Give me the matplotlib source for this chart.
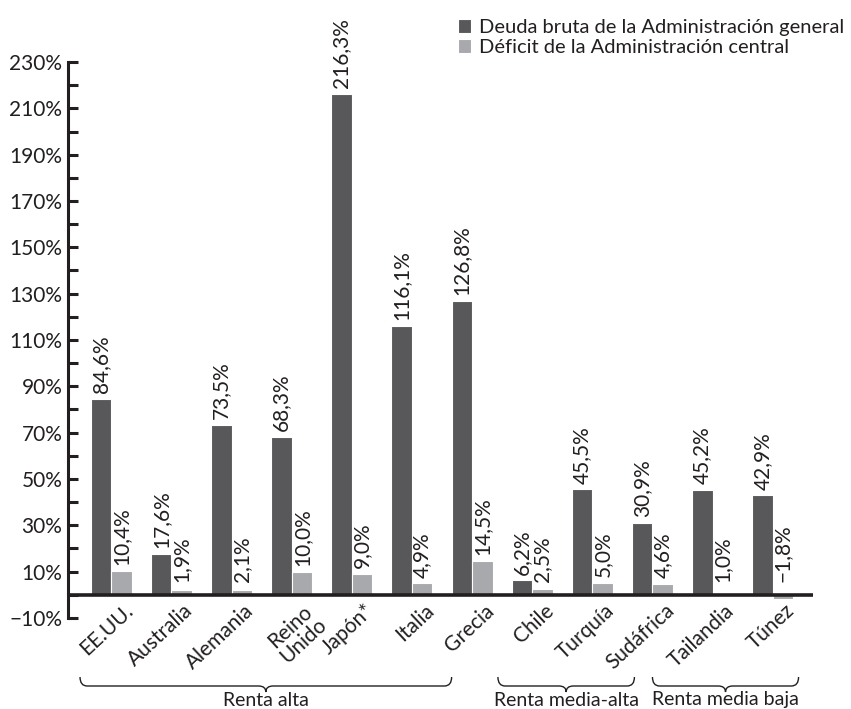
import numpy as np
import matplotlib
matplotlib.use("Agg")
import matplotlib.pyplot as plt
from matplotlib.path import Path
from matplotlib.patches import PathPatch
from matplotlib.transforms import blended_transform_factory

plt.rcParams['font.family'] = ['Lato', 'DejaVu Sans']

countries = ['EE.UU.', 'Australia', 'Alemania', 'Reino\nUnido', 'Japón*', 'Italia',
             'Grecia', 'Chile', 'Turquía', 'Sudáfrica', 'Tailandia', 'Túnez']
deuda = [84.6, 17.6, 73.5, 68.3, 216.3, 116.1, 126.8, 6.2, 45.5, 30.9, 45.2, 42.9]
deficit = [10.4, 1.9, 2.1, 10.0, 9.0, 4.9, 14.5, 2.5, 5.0, 4.6, 1.0, -1.8]
series_names = ['Deuda bruta de la Administración general',
                'Déficit de la Administración central']
groups = ['Renta alta', 'Renta media-alta', 'Renta media baja']
group_ranges = [(-0.52, 5.66), (6.43, 8.70), (9.0, 11.43)]

dark = '#58585a'
light = '#a7a9ac'
txt = '#231f20'
fs = 15


def fmt(v, dec=1):
    s = f'{abs(v):.{dec}f}'.replace('.', ',') + '%'
    return ('\u2212' + s) if v < 0 else s


def brace(ax, x0, x1, tr, yt, ym, yb, r=0.12):
    xm = (x0 + x1) / 2
    verts = [(x0, yt), (x0, ym), (x0 + r, ym), (xm - r, ym), (xm, ym), (xm, yb),
             (xm, ym), (xm + r, ym), (x1 - r, ym), (x1, ym), (x1, yt)]
    codes = [Path.MOVETO, Path.CURVE3, Path.CURVE3, Path.LINETO, Path.CURVE3, Path.CURVE3,
             Path.CURVE3, Path.CURVE3, Path.LINETO, Path.CURVE3, Path.CURVE3]
    ax.add_patch(PathPatch(Path(verts, codes), transform=tr, fill=False,
                           edgecolor=txt, lw=1.0, clip_on=False))


fig = plt.figure(figsize=(8.51, 7.09), dpi=100)
ax = fig.add_axes([68 / 851, 1 - 618 / 709, (813 - 68) / 851, (618 - 62) / 709])

x = np.arange(len(countries))
w = 0.34
ax.bar(x - w / 2, deuda, w, color=dark, edgecolor='white', linewidth=0.8,
       label=series_names[0], zorder=2)
ax.bar(x + w / 2, deficit, w, color=light, edgecolor='white', linewidth=0.8,
       label=series_names[1], zorder=2)

for i in range(len(countries)):
    for v, off in ((deuda[i], -w / 2), (deficit[i], w / 2)):
        ax.text(x[i] + off, max(v, 3) + 2.5, fmt(v), rotation=90, ha='center',
                va='bottom', fontsize=fs, color=txt)
    ax.text(x[i] + 0.2, -2.5, countries[i], rotation=43, rotation_mode='anchor',
            ha='right', va='top', multialignment='center', fontsize=fs, color=txt,
            linespacing=0.95)

ax.set_xlim(-0.72, 11.67)
ax.set_ylim(-10, 230)
ax.axhline(0, color=txt, lw=2.6, zorder=3)

for s in ('top', 'right', 'bottom'):
    ax.spines[s].set_visible(False)
ax.spines['left'].set_linewidth(2.2)
ax.spines['left'].set_color(txt)
ax.set_xticks([])
ticks = np.arange(-10, 231, 20)
ax.set_yticks(ticks)
ax.set_yticks(np.arange(0, 230, 20), minor=True)
ax.set_yticklabels([fmt(t, 0) for t in ticks])
ax.tick_params(axis='y', which='both', direction='in', length=7, width=2.2,
               color=txt, labelsize=fs, labelcolor=txt, pad=4)

tr = blended_transform_factory(ax.transData, fig.transFigure)
for name, (a, b) in zip(groups, group_ranges):
    brace(ax, a, b, tr, 1 - 677 / 709, 1 - 686 / 709, 1 - 692 / 709)
    ax.text((a + b) / 2, 1 - 700 / 709, name, transform=tr, ha='center', va='center',
            fontsize=14, color=txt)

ax.legend(loc='upper left', bbox_to_anchor=(458 / 851, 1 - 19 / 709),
          bbox_transform=fig.transFigure, frameon=False, handlelength=0.65,
          handleheight=0.65, handletextpad=0.4, borderaxespad=0, borderpad=0,
          labelspacing=0.15, fontsize=14.5, labelcolor=txt)

fig.savefig('out.png', dpi=100)
